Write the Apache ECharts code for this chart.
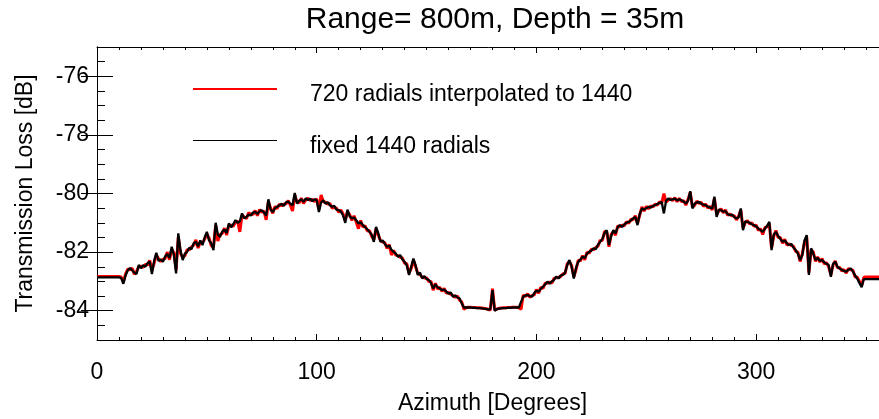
<!DOCTYPE html>
<html>
<head>
<meta charset="utf-8">
<script src="https://cdn.jsdelivr.net/npm/echarts@6/dist/echarts.min.js"></script>
<style>
  html, body { margin: 0; padding: 0; background: #fff; }
  #chart { width: 879px; height: 419px; }
</style>
</head>
<body>
<div id="chart"></div>
<script>
// Transmission loss versus azimuth, one value per degree (0..360)
const titleText = 'Range= 800m, Depth = 35m';
const seriesNames = ['720 radials interpolated to 1440', 'fixed 1440 radials'];
const yMajorTicks = [-84, -82, -80, -78, -76];
const yMinorTicks = [-84.5, -83.5, -83, -82.5, -81.5, -81, -80.5, -79.5, -79, -78.5, -77.5, -77, -76.5, -75.5];

const interpolated720 = [
  -82.83, -82.83, -82.83, -82.83, -82.83, -82.83, -82.83, -82.83, -82.83, -82.83,
  -82.83, -82.85, -83.02, -82.74, -82.58, -82.60, -82.55, -82.76, -82.66, -82.50,
  -82.48, -82.52, -82.42, -82.44, -82.28, -82.62, -82.38, -82.10, -82.22, -82.32,
  -82.25, -82.22, -82.00, -82.26, -81.90, -82.02, -82.60, -81.48, -82.05, -82.18,
  -82.12, -81.92, -81.92, -81.82, -81.76, -81.58, -81.86, -81.66, -81.68, -81.56,
  -81.38, -81.52, -81.78, -81.84, -81.08, -81.62, -81.40, -81.36, -81.18, -81.42,
  -81.08, -81.08, -81.12, -80.98, -80.94, -81.31, -80.74, -80.80, -80.86, -80.66,
  -80.70, -80.72, -80.58, -80.76, -80.55, -80.64, -80.60, -80.90, -80.28, -80.50,
  -80.68, -80.44, -80.52, -80.36, -80.42, -80.36, -80.36, -80.24, -80.40, -80.60,
  -80.05, -80.28, -80.32, -80.16, -80.34, -80.22, -80.16, -80.24, -80.20, -80.28,
  -80.18, -80.55, -80.05, -80.28, -80.30, -80.36, -80.34, -80.50, -80.48, -80.50,
  -80.64, -80.56, -80.70, -80.92, -80.62, -80.72, -80.92, -80.76, -80.98, -81.20,
  -80.92, -81.14, -81.10, -81.28, -81.26, -81.46, -81.58, -81.20, -81.42, -81.60,
  -81.66, -81.68, -81.88, -81.74, -82.10, -81.94, -82.10, -82.12, -82.18, -82.20,
  -82.38, -82.40, -82.72, -82.56, -82.28, -82.50, -82.72, -82.76, -82.86, -82.88,
  -82.88, -83.00, -83.00, -83.30, -83.06, -83.26, -83.20, -83.34, -83.24, -83.40,
  -83.38, -83.44, -83.48, -83.54, -83.50, -83.64, -83.70, -83.95, -83.89, -83.88,
  -83.88, -83.89, -83.89, -83.90, -83.90, -83.91, -83.92, -83.93, -83.95, -83.98,
  -83.25, -83.98, -83.94, -83.92, -83.91, -83.90, -83.90, -83.89, -83.89, -83.88,
  -83.88, -83.88, -83.90, -83.95, -83.46, -83.52, -83.42, -83.54, -83.48, -83.46,
  -83.28, -83.40, -83.20, -83.24, -83.06, -83.06, -83.02, -83.06, -82.90, -82.88,
  -82.86, -82.84, -82.74, -82.74, -82.40, -82.32, -82.46, -82.84, -82.60, -82.28,
  -82.30, -82.12, -82.26, -82.00, -82.04, -81.90, -81.92, -81.84, -81.80, -81.60,
  -81.60, -81.30, -81.30, -81.82, -81.40, -81.30, -81.42, -81.10, -81.14, -81.08,
  -81.10, -80.96, -81.02, -80.88, -80.90, -80.76, -81.02, -80.74, -80.46, -80.60,
  -80.44, -80.52, -80.42, -80.46, -80.36, -80.40, -80.28, -80.34, -80.00, -80.30,
  -80.22, -80.18, -80.24, -80.14, -80.28, -80.16, -80.28, -80.24, -80.40, -80.20,
  -79.96, -80.46, -80.40, -80.26, -80.34, -80.30, -80.44, -80.36, -80.50, -80.44,
  -80.56, -80.16, -80.72, -80.60, -80.52, -80.66, -80.56, -80.74, -80.70, -80.76,
  -80.76, -80.90, -80.78, -80.56, -81.18, -81.00, -80.92, -81.04, -81.00, -81.12,
  -81.08, -81.26, -81.20, -81.40, -81.16, -81.14, -81.02, -81.86, -81.46, -81.26,
  -81.50, -81.50, -81.70, -81.56, -81.76, -81.72, -81.78, -81.80, -81.98, -82.00,
  -82.32, -82.06, -81.66, -81.48, -82.70, -81.92, -82.00, -82.32, -82.16, -82.34,
  -82.22, -82.40, -82.36, -82.50, -82.78, -82.44, -82.30, -82.54, -82.52, -82.64,
  -82.60, -82.72, -82.56, -82.60, -82.62, -82.84, -82.86, -83.00, -83.14, -82.86,
  -82.85, -82.85, -82.85, -82.85, -82.85, -82.85, -82.85, -82.85, -82.85, -82.85,
  -82.85
];

const fixed1440 = [
  -82.86, -82.86, -82.86, -82.86, -82.86, -82.86, -82.86, -82.86, -82.86, -82.86,
  -82.86, -82.88, -83.08, -82.80, -82.62, -82.55, -82.62, -82.70, -82.75, -82.44,
  -82.55, -82.45, -82.50, -82.38, -82.33, -82.75, -82.30, -82.02, -82.30, -82.25,
  -82.33, -82.15, -82.07, -82.20, -81.82, -82.10, -82.73, -81.36, -81.95, -82.27,
  -82.05, -81.99, -81.85, -81.90, -81.70, -81.65, -81.80, -81.60, -81.76, -81.50,
  -81.31, -81.60, -81.70, -81.93, -81.00, -81.40, -81.48, -81.30, -81.23, -81.35,
  -81.02, -81.15, -81.05, -80.91, -81.00, -80.95, -80.68, -80.85, -80.80, -80.72,
  -80.75, -80.65, -80.63, -80.70, -80.60, -80.57, -80.65, -80.75, -80.20, -80.55,
  -80.63, -80.50, -80.45, -80.40, -80.35, -80.42, -80.30, -80.28, -80.35, -80.40,
  -79.98, -80.34, -80.25, -80.20, -80.28, -80.17, -80.22, -80.18, -80.26, -80.20,
  -80.23, -80.63, -80.30, -80.23, -80.35, -80.30, -80.40, -80.45, -80.42, -80.55,
  -80.57, -80.62, -80.75, -81.00, -80.55, -80.78, -80.85, -80.82, -80.91, -81.02,
  -80.98, -81.08, -81.15, -81.22, -81.31, -81.40, -81.65, -81.14, -81.35, -81.65,
  -81.60, -81.72, -81.82, -81.78, -81.92, -81.99, -82.05, -82.16, -82.10, -82.25,
  -82.33, -82.45, -82.78, -82.50, -82.22, -82.45, -82.78, -82.70, -82.90, -82.82,
  -82.92, -82.95, -83.05, -83.24, -83.10, -83.20, -83.24, -83.30, -83.28, -83.35,
  -83.42, -83.38, -83.52, -83.48, -83.55, -83.58, -83.75, -83.89, -83.89, -83.89,
  -83.89, -83.90, -83.90, -83.91, -83.91, -83.92, -83.93, -83.94, -83.96, -83.95,
  -83.30, -84.00, -83.95, -83.93, -83.92, -83.91, -83.91, -83.90, -83.90, -83.89,
  -83.89, -83.89, -83.89, -83.70, -83.52, -83.48, -83.47, -83.50, -83.52, -83.40,
  -83.32, -83.35, -83.25, -83.18, -83.10, -83.01, -83.08, -83.00, -82.95, -82.84,
  -82.90, -82.80, -82.78, -82.70, -82.45, -82.27, -82.50, -82.90, -82.55, -82.33,
  -82.25, -82.16, -82.20, -82.05, -81.99, -81.95, -81.87, -81.90, -81.75, -81.65,
  -81.55, -81.35, -81.25, -81.76, -81.45, -81.25, -81.36, -81.15, -81.08, -81.14,
  -81.05, -81.00, -80.97, -80.92, -80.85, -80.80, -81.08, -80.70, -80.51, -80.55,
  -80.50, -80.46, -80.48, -80.42, -80.40, -80.36, -80.32, -80.29, -80.68, -80.25,
  -80.17, -80.22, -80.20, -80.17, -80.24, -80.20, -80.23, -80.28, -80.34, -80.25,
  -79.92, -80.51, -80.35, -80.30, -80.29, -80.35, -80.38, -80.40, -80.45, -80.48,
  -80.51, -80.11, -80.80, -80.55, -80.57, -80.62, -80.60, -80.70, -80.74, -80.72,
  -80.80, -80.85, -80.82, -80.51, -81.25, -80.95, -80.97, -81.00, -81.05, -81.08,
  -81.12, -81.20, -81.25, -81.31, -81.20, -81.10, -80.97, -81.93, -81.40, -81.31,
  -81.45, -81.55, -81.65, -81.60, -81.70, -81.76, -81.72, -81.85, -81.93, -82.05,
  -82.27, -82.10, -81.60, -81.42, -82.78, -81.87, -82.05, -82.27, -82.20, -82.30,
  -82.27, -82.35, -82.40, -82.44, -82.84, -82.40, -82.33, -82.50, -82.56, -82.60,
  -82.65, -82.67, -82.60, -82.56, -82.65, -82.80, -82.90, -83.05, -83.20, -82.92,
  -82.92, -82.92, -82.92, -82.92, -82.92, -82.92, -82.92, -82.92, -82.92, -82.92,
  -82.92
];

// azimuth grid in degrees, one sample per value
const azimuth = [];
for (let i = 0; i < fixed1440.length; i++) azimuth.push(i);

const pairs = (vals) => vals.map((v, i) => [azimuth[i], v]);

const FONT = '"Liberation Sans", Arial, Helvetica, sans-serif';
const AXIS_COLOR = '#000';
const TXT = 23;
const RED = '#ff0000';
const BLACK = '#000000';

const chart = echarts.init(document.getElementById('chart'), null, { renderer: 'canvas' });

const xCommon = {
  type: 'value', min: 0, max: 360, interval: 100,
  axisLine: { show: true, lineStyle: { color: AXIS_COLOR, width: 1 } },
  axisTick: { show: true, inside: true, length: 6, lineStyle: { color: AXIS_COLOR } },
  minorTick: { show: true, splitNumber: 10, length: 3, lineStyle: { color: AXIS_COLOR } },
  splitLine: { show: false }, minorSplitLine: { show: false }
};

const yCommon = {
  type: 'value', min: -85, max: -75,
  splitLine: { show: false }
};

// key: a short coloured line and the series label beside it
const keyEntry = (label, color, lineY, width) => ([
  {
    type: 'line', silent: true,
    shape: { x1: 193, y1: lineY, x2: 277, y2: lineY },
    style: { stroke: color, lineWidth: width }
  },
  {
    type: 'text', silent: true,
    style: {
      text: label, x: 310, y: lineY + 6, verticalAlign: 'middle', align: 'left',
      font: TXT + 'px ' + FONT, fill: '#000'
    }
  }
]);

chart.setOption({
  animation: false,
  backgroundColor: '#fff',
  textStyle: { fontFamily: FONT },
  title: {
    text: titleText, left: 490, top: 0, textAlign: 'center',
    textStyle: { fontFamily: FONT, fontSize: 30, fontWeight: 'normal', color: '#000' }
  },
  grid: { left: 97, right: -9, top: 47, bottom: 79, outerBoundsMode: 'none', containLabel: false },
  graphic: [].concat(
    keyEntry(seriesNames[0], RED, 89, 2),
    keyEntry(seriesNames[1], BLACK, 140.5, 1)
  ),
  xAxis: [
    Object.assign({}, xCommon, {
      position: 'bottom',
      name: 'Azimuth [Degrees]', nameLocation: 'middle', nameGap: 52,
      nameTextStyle: { fontFamily: FONT, fontSize: TXT, color: '#000' },
      axisLabel: { show: true, margin: 21, showMaxLabel: false, fontFamily: FONT, fontSize: TXT, color: '#000' }
    }),
    Object.assign({}, xCommon, {
      position: 'top',
      axisLabel: { show: false }
    })
  ],
  yAxis: [
    Object.assign({}, yCommon, {
      position: 'left',
      name: 'Transmission Loss [dB]', nameLocation: 'middle', nameGap: 60,
      nameTextStyle: { fontFamily: FONT, fontSize: TXT, color: '#000' },
      axisLine: { show: true, lineStyle: { color: AXIS_COLOR, width: 1 } },
      axisTick: { show: true, inside: true, length: 16, customValues: yMajorTicks, lineStyle: { color: AXIS_COLOR } },
      axisLabel: { show: true, margin: 8, customValues: yMajorTicks, fontFamily: FONT, fontSize: TXT, color: '#000' }
    }),
    Object.assign({}, yCommon, {
      position: 'right',
      axisLine: { show: true, lineStyle: { color: AXIS_COLOR, width: 1 } },
      axisTick: { show: true, inside: true, length: 16, customValues: yMajorTicks, lineStyle: { color: AXIS_COLOR } },
      axisLabel: { show: false }
    }),
    Object.assign({}, yCommon, {
      position: 'left',
      axisLine: { show: false },
      axisTick: { show: true, inside: true, length: 8, customValues: yMinorTicks, lineStyle: { color: AXIS_COLOR } },
      axisLabel: { show: false }
    }),
    Object.assign({}, yCommon, {
      position: 'right',
      axisLine: { show: false },
      axisTick: { show: true, inside: true, length: 8, customValues: yMinorTicks, lineStyle: { color: AXIS_COLOR } },
      axisLabel: { show: false }
    })
  ],
  series: [
    {
      name: seriesNames[0], type: 'line', xAxisIndex: 0, yAxisIndex: 0,
      data: pairs(interpolated720), symbol: 'none', showSymbol: false, silent: true,
      color: RED,
      lineStyle: { color: RED, width: 3 }, itemStyle: { color: RED }, z: 2
    },
    {
      name: seriesNames[1], type: 'line', xAxisIndex: 0, yAxisIndex: 0,
      data: pairs(fixed1440), symbol: 'none', showSymbol: false, silent: true,
      color: BLACK,
      lineStyle: { color: BLACK, width: 2.3 }, itemStyle: { color: BLACK }, z: 3
    }
  ]
});
</script>
</body>
</html>
